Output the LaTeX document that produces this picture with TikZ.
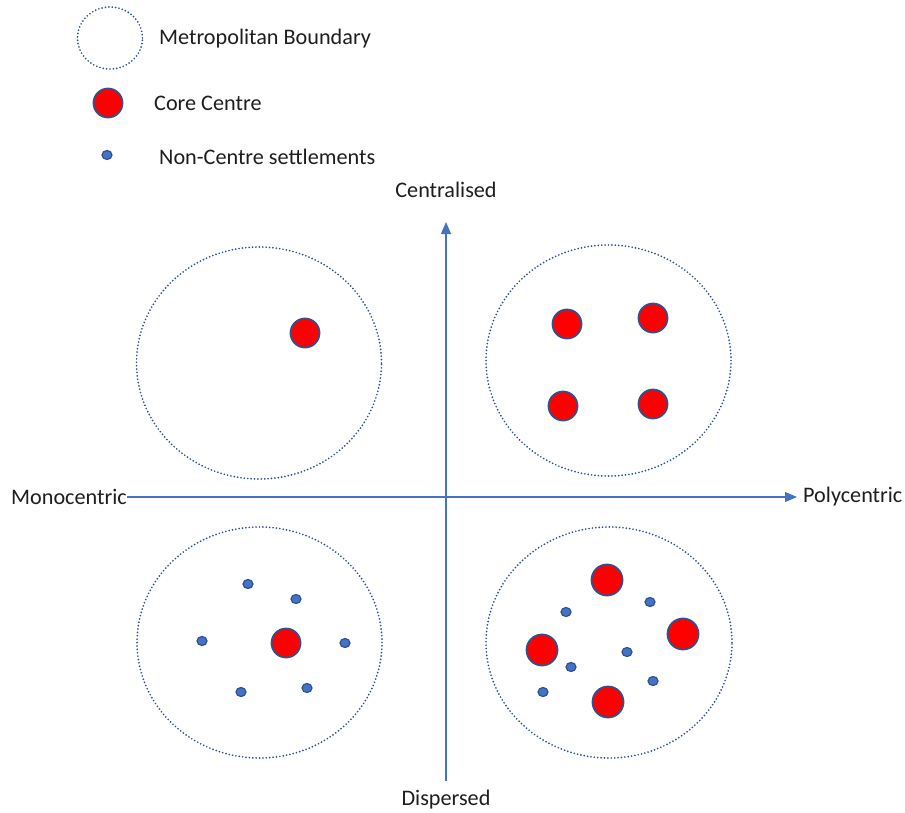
\documentclass[tikz,border=0pt]{standalone}
\usepackage{fontspec}
\setmainfont{Carlito}
\usetikzlibrary{arrows.meta,shapes.geometric}
\definecolor{bdr}{HTML}{2F528F}
\definecolor{axis}{HTML}{4472C4}
\definecolor{txt}{HTML}{1E1E1E}
\tikzset{
  metro/.style={ellipse, draw=bdr, line width=1.9pt, dash pattern=on 0pt off 3.4pt, line cap=round, inner sep=0pt},
  core/.style={circle, draw=bdr, fill=red, line width=1.8pt, minimum size=29pt, inner sep=0pt},
  bigcore/.style={core, minimum size=31pt},
  settle/.style={ellipse, draw=bdr, fill=axis, line width=1.2pt, minimum width=10pt, minimum height=9pt, inner sep=0pt},
  lbl/.style={font=\fontsize{22.2}{25}\selectfont, text=txt, inner sep=0pt},
  axline/.style={draw=axis, line width=1.2pt, -{Triangle[length=12pt,width=10pt]}}
}
\begin{document}
\begin{tikzpicture}[x=1pt,y=-1pt]
\useasboundingbox (0,0) rectangle (905,812);
% legend
\node[metro, minimum width=65pt, minimum height=62pt] (lgm) at (110,38) {};
\node[lbl, anchor=west] (lgmt) at (159,39) {Metropolitan Boundary};
\node[core] (lgc) at (108,103) {};
\node[lbl, anchor=west] (lgct) at (154,103) {Core Centre};
\node[settle] (lgs) at (107,155) {};
\node[lbl, anchor=west] (lgst) at (159,157) {Non-Centre settlements};
% axis labels
\node[lbl] (cen) at (446,190) {Centralised};
\node[lbl] (dis) at (446,800) {Dispersed};
\node[lbl, anchor=east] (mono) at (127,497) {Monocentric};
\node[lbl, anchor=west] (poly) at (803,497) {Polycentric};
\coordinate (vbot) at (446,781);
\coordinate (vtop) at (446,222);
\coordinate (hright) at (797,497);
\draw[axline] (vbot) -- (vtop);
\draw[axline] (mono.east) -- (hright);
% quadrant boundaries
\node[metro, minimum width=245pt, minimum height=232pt] (tl) at (259,363) {};
\node[metro, minimum width=245pt, minimum height=231pt] (tr) at (608.5,360.5) {};
\node[metro, minimum width=245pt, minimum height=231pt] (bl) at (259.5,642.5) {};
\node[metro, minimum width=246pt, minimum height=231pt] (br) at (609,642.5) {};
% top-left
\node[core] (tlc) at (305,333) {};
% top-right
\node[core] (tr1) at (567,324) {};
\node[core] (tr2) at (653,318) {};
\node[core] (tr3) at (563,406) {};
\node[core] (tr4) at (653,404) {};
% bottom-left
\node[core] (blc) at (286,643) {};
\node[settle] (bl1) at (248,584) {};
\node[settle] (bl2) at (296,599) {};
\node[settle] (bl3) at (202,641) {};
\node[settle] (bl4) at (345,643) {};
\node[settle] (bl5) at (241,692) {};
\node[settle] (bl6) at (307,688) {};
% bottom-right
\node[bigcore] (brc1) at (607,580) {};
\node[bigcore] (brc2) at (542,650) {};
\node[bigcore] (brc3) at (683,634) {};
\node[bigcore] (brc4) at (608,702) {};
\node[settle] (br1) at (566,612) {};
\node[settle] (br2) at (650,602) {};
\node[settle] (br3) at (627,652) {};
\node[settle] (br4) at (571,667) {};
\node[settle] (br5) at (543,692) {};
\node[settle] (br6) at (653,681) {};
\end{tikzpicture}
\end{document}
